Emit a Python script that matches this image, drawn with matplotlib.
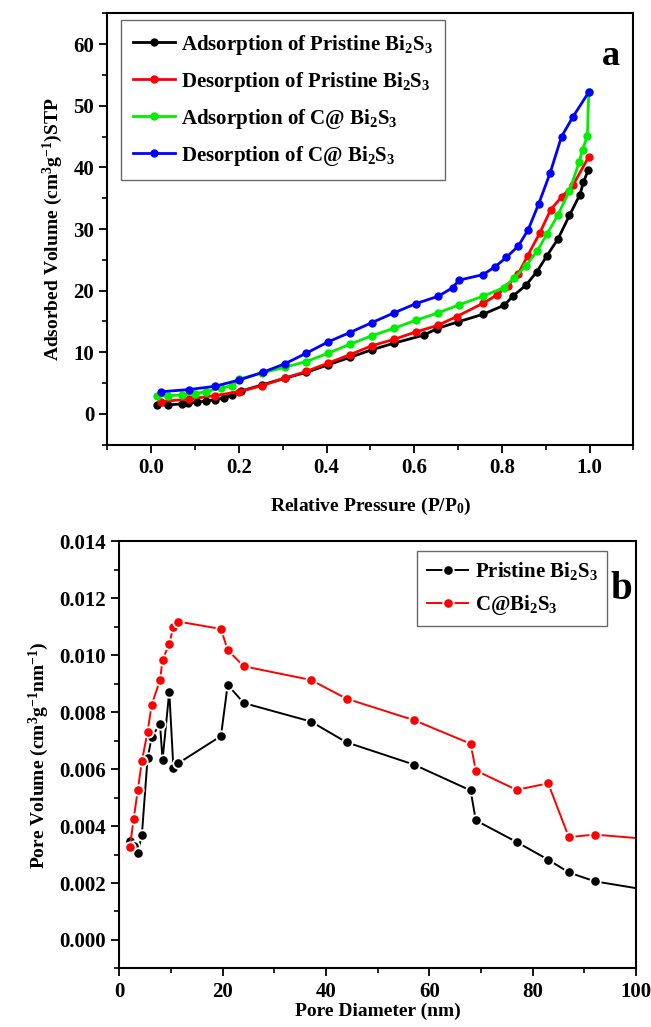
import matplotlib
matplotlib.use("Agg")
import matplotlib.pyplot as plt
from matplotlib.ticker import MultipleLocator

plt.rcParams['font.family'] = 'Liberation Serif'
plt.rcParams['font.weight'] = 'bold'
plt.rcParams['mathtext.fontset'] = 'custom'
plt.rcParams['mathtext.rm'] = 'Liberation Serif:bold'
plt.rcParams['mathtext.it'] = 'Liberation Serif:bold'
plt.rcParams['mathtext.bf'] = 'Liberation Serif:bold'
plt.rcParams['mathtext.default'] = 'rm'

# --- (a) N2 isotherms ---
ads_pri_x = [0.012, 0.039, 0.071, 0.083, 0.105, 0.125, 0.145, 0.165, 0.185, 0.205, 0.252, 0.304,
             0.354, 0.404, 0.453, 0.503, 0.554, 0.622, 0.652, 0.700, 0.757, 0.805, 0.825, 0.855,
             0.880, 0.903, 0.928, 0.954, 0.978, 0.986, 0.997]
ads_pri_y = [1.46, 1.46, 1.62, 1.73, 1.89, 2.1, 2.32, 2.53, 3.07, 3.7, 4.69, 5.77,
             6.74, 7.98, 9.16, 10.4, 11.48, 12.78, 13.85, 14.93, 16.17, 17.63, 19.1, 20.9,
             23.1, 25.7, 28.4, 32.2, 35.6, 37.6, 39.6]

des_pri_x = [0.998, 0.962, 0.936, 0.911, 0.886, 0.859, 0.837, 0.813, 0.789, 0.757, 0.697, 0.655,
             0.604, 0.554, 0.503, 0.453, 0.404, 0.354, 0.304, 0.252, 0.201, 0.145, 0.086, 0.023]
des_pri_y = [41.7, 37.1, 35.2, 33.1, 29.3, 25.7, 22.7, 20.8, 19.3, 17.95, 15.8, 14.4,
             13.3, 12.1, 11.05, 9.6, 8.25, 6.9, 5.77, 4.58, 3.6, 2.97, 2.4, 2.0]

ads_c_x = [0.012, 0.039, 0.071, 0.1, 0.125, 0.16, 0.185, 0.201, 0.252, 0.304, 0.354, 0.404,
           0.453, 0.503, 0.554, 0.604, 0.655, 0.702, 0.757, 0.805, 0.828, 0.855, 0.880, 0.903,
           0.928, 0.954, 0.976, 0.984, 0.995, 0.998]
ads_c_y = [2.86, 2.96, 3.07, 3.3, 3.6, 4.2, 4.6, 5.66, 6.63, 7.55, 8.5, 9.86,
           11.3, 12.67, 13.9, 15.2, 16.4, 17.7, 19.1, 20.5, 22.1, 24.0, 26.4, 29.2,
           32.3, 36.2, 40.8, 42.9, 45.1, 52.2]

des_c_x = [0.998, 0.962, 0.936, 0.91, 0.884, 0.86, 0.837, 0.81, 0.785, 0.757, 0.702, 0.688,
           0.655, 0.604, 0.554, 0.503, 0.453, 0.404, 0.354, 0.304, 0.254, 0.201, 0.145, 0.085, 0.023]
des_c_y = [52.2, 48.2, 45.0, 39.1, 34.1, 29.9, 27.2, 25.4, 23.9, 22.6, 21.7, 20.5,
           19.1, 17.9, 16.4, 14.8, 13.2, 11.7, 9.86, 8.1, 6.74, 5.5, 4.47, 3.94, 3.6]

# --- (b) pore size distribution ---
pore_d = [2.1, 2.8, 3.6, 4.4, 5.5, 6.3, 7.9, 8.4, 9.7, 10.5, 11.4, 19.7, 21.0, 24.1,
          37.1, 44.0, 57.0, 68.0, 69.0, 76.9, 83.0, 87.0, 92.0, 104.0]
pv_pri = [0.00346, 0.0033, 0.00307, 0.00369, 0.00638, 0.00711, 0.0076, 0.00632, 0.00872, 0.00603,
          0.0062, 0.00716, 0.00896, 0.00832, 0.00767, 0.00694, 0.00616, 0.00525, 0.0042, 0.00344,
          0.00282, 0.00237, 0.00206, 0.0017]
pv_c = [0.00328, 0.00424, 0.00525, 0.00628, 0.00731, 0.00826, 0.00912, 0.00983, 0.0104, 0.0110,
        0.01118, 0.01092, 0.01018, 0.00961, 0.00913, 0.00847, 0.00772, 0.00689, 0.00595, 0.00527,
        0.0055, 0.00361, 0.0037, 0.00352]

fig = plt.figure(figsize=(6.51, 10.27), dpi=100)
ax1 = fig.add_axes([0.165, 0.567, 0.808, 0.420])
ax2 = fig.add_axes([0.183, 0.057, 0.794, 0.416])

series_a = [
    (ads_pri_x, ads_pri_y, 'black', 'Adsorption of Pristine Bi$_2$S$_3$'),
    (des_pri_x, des_pri_y, 'red', 'Desorption of Pristine Bi$_2$S$_3$'),
    (ads_c_x, ads_c_y, '#00ee00', 'Adsorption of C@ Bi$_2$S$_3$'),
    (des_c_x, des_c_y, 'blue', 'Desorption of C@ Bi$_2$S$_3$'),
]
for xs, ys, c, lab in series_a:
    ax1.plot(xs, ys, '-o', color=c, lw=2, ms=5, mec=c, label=lab)

ax1.set_xlim(-0.1, 1.1)
ax1.set_ylim(-5, 65)
ax1.xaxis.set_major_locator(MultipleLocator(0.2))
ax1.xaxis.set_minor_locator(MultipleLocator(0.1))
ax1.yaxis.set_major_locator(MultipleLocator(10))
ax1.yaxis.set_minor_locator(MultipleLocator(5))
ax1.set_xlabel('Relative Pressure (P/P$_0$)', fontsize=14, fontweight='bold', labelpad=13)
ax1.set_ylabel('Adsorbed Volume (cm$^3$g$^{-1}$)STP', fontsize=14, fontweight='bold', labelpad=6)
leg1 = ax1.legend(loc='upper left', bbox_to_anchor=(0.025, 0.984), borderaxespad=0, fontsize=15,
                  frameon=True, fancybox=False, edgecolor='#444444', handlelength=2.0,
                  handletextpad=0.3, labelspacing=0.62, borderpad=0.6)
leg1.get_frame().set_linewidth(1.0)
ax1.text(0.975, 0.9, 'a', transform=ax1.transAxes, fontsize=26, fontweight='bold',
         ha='right', va='center')

ax2.plot(pore_d, pv_pri, '-o', color='black', lw=1.4, ms=7.5, mec='white', mew=1.3,
         label='Pristine Bi$_2$S$_3$')
ax2.plot(pore_d, pv_c, '-o', color='red', lw=1.4, ms=7.5, mec='white', mew=1.3,
         label='C@Bi$_2$S$_3$')
ax2.set_xlim(0, 100)
ax2.set_ylim(-0.001, 0.014)
ax2.xaxis.set_major_locator(MultipleLocator(20))
ax2.xaxis.set_minor_locator(MultipleLocator(10))
ax2.yaxis.set_major_locator(MultipleLocator(0.002))
ax2.yaxis.set_minor_locator(MultipleLocator(0.001))
ax2.yaxis.set_major_formatter(plt.FuncFormatter(lambda v, p: f'{v:.3f}'))
ax2.set_xlabel('Pore Diameter (nm)', fontsize=14, fontweight='bold', labelpad=1)
ax2.set_ylabel('Pore Volume (cm$^3$g$^{-1}$nm$^{-1}$)', fontsize=14, fontweight='bold', labelpad=6)
leg2 = ax2.legend(loc='upper right', bbox_to_anchor=(0.944, 0.977), borderaxespad=0, fontsize=15,
                  frameon=True, fancybox=False, edgecolor='#444444', handlelength=2.0,
                  handletextpad=0.3, labelspacing=0.5, borderpad=0.45)
leg2.get_frame().set_linewidth(1.0)
ax2.text(0.992, 0.888, 'b', transform=ax2.transAxes, fontsize=28, fontweight='bold',
         ha='right', va='center')

for ax in (ax1, ax2):
    for s in ax.spines.values():
        s.set_linewidth(1.5)
    ax.tick_params(which='major', direction='out', length=6, width=1.3, labelsize=15,
                   top=False, right=False)
    ax.tick_params(which='minor', direction='out', length=3.5, width=1.2, top=False, right=False)
    for t in ax.get_xticklabels() + ax.get_yticklabels():
        t.set_fontweight('bold')

fig.savefig('out.png', dpi=100)
